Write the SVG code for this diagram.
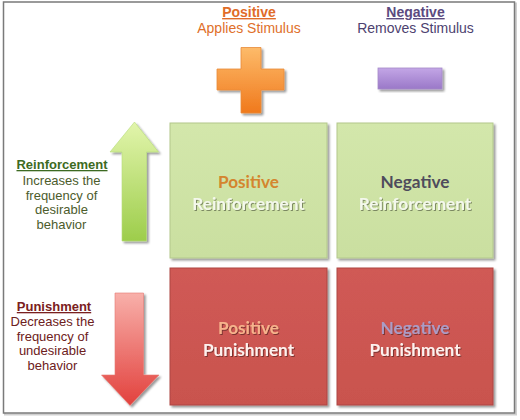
<svg xmlns="http://www.w3.org/2000/svg" width="520" height="420" viewBox="0 0 520 420">
<defs>
  <linearGradient id="gPlus" x1="0" y1="0" x2="0" y2="1">
    <stop offset="0" stop-color="#fdbb6a"/>
    <stop offset="1" stop-color="#f0791c"/>
  </linearGradient>
  <linearGradient id="gMinus" x1="0" y1="0" x2="0" y2="1">
    <stop offset="0" stop-color="#c3a6e6"/>
    <stop offset="1" stop-color="#9a78c8"/>
  </linearGradient>
  <linearGradient id="gUp" x1="0" y1="0" x2="0" y2="1">
    <stop offset="0" stop-color="#e2f5ac"/>
    <stop offset="1" stop-color="#9dcd4b"/>
  </linearGradient>
  <linearGradient id="gDown" x1="0" y1="0" x2="0" y2="1">
    <stop offset="0" stop-color="#f8b0aa"/>
    <stop offset="1" stop-color="#e2413d"/>
  </linearGradient>
  <linearGradient id="gGreen" x1="0" y1="0" x2="0" y2="1">
    <stop offset="0" stop-color="#d3e7ab"/>
    <stop offset="1" stop-color="#cadfa0"/>
  </linearGradient>
  <linearGradient id="gRed" x1="0" y1="0" x2="0" y2="1">
    <stop offset="0" stop-color="#d05a55"/>
    <stop offset="1" stop-color="#c9534e"/>
  </linearGradient>
  <filter id="shadow" x="-10%" y="-10%" width="125%" height="125%">
    <feDropShadow dx="2" dy="2" stdDeviation="1.2" flood-color="#000" flood-opacity="0.4"/>
  </filter>
  <filter id="tshadow" x="-10%" y="-20%" width="120%" height="150%">
    <feDropShadow dx="1" dy="1" stdDeviation="0.6" flood-color="#000" flood-opacity="0.4"/>
  </filter>
</defs>
<style>
  .hd { font-family: "Liberation Sans", Arial, sans-serif; font-size: 14px; text-anchor: middle; }
  .b { font-weight: bold; text-decoration: underline; }
  .side { font-family: "Liberation Sans", Arial, sans-serif; font-size: 13px; text-anchor: middle; }
  .box { font-family: Lato, "Open Sans", sans-serif; font-weight: bold; font-size: 17.2px; text-anchor: middle; }
  .greenbox { fill: url(#gGreen); stroke: #b3c88c; stroke-width: 1; }
  .redbox { fill: url(#gRed); stroke: #ad4742; stroke-width: 1; }
</style>
<rect width="520" height="420" fill="#ffffff"/>
<rect x="5" y="3.5" width="511" height="411" fill="none" stroke="#cfcfcf" stroke-width="2"/>
<rect x="3.5" y="2" width="511" height="411" fill="#ffffff" stroke="#7a7a7a" stroke-width="1.5"/>

<g id="header-positive">
  <text class="hd b" x="249" y="17" fill="#e06c28">Positive</text>
  <text class="hd" x="249" y="32.5" fill="#e0702a">Applies Stimulus</text>
</g>
<g id="header-negative">
  <text class="hd b" x="415.5" y="17" fill="#5b4a80">Negative</text>
  <text class="hd" x="415.5" y="32.5" fill="#4d4270">Removes Stimulus</text>
</g>

<g id="plus" filter="url(#shadow)">
  <path d="M241,47.5 H261 V69 H284 V90 H261 V113 H241 V90 H217 V69 H241 Z" fill="url(#gPlus)" stroke="#e88a3a" stroke-width="0.8"/>
</g>
<g id="minus" filter="url(#shadow)">
  <rect x="378" y="68" width="64" height="21" fill="url(#gMinus)" stroke="#a58bc9" stroke-width="0.8"/>
</g>

<g id="reinforcement-label">
  <text class="side b" x="62" y="169" fill="#3d6a22">Reinforcement</text>
  <text class="side" x="61.5" y="185" fill="#4c5c2c">Increases the</text>
  <text class="side" x="61.5" y="199.5" fill="#4c5c2c">frequency of</text>
  <text class="side" x="61.5" y="214" fill="#4c5c2c">desirable</text>
  <text class="side" x="61.5" y="228.5" fill="#4c5c2c">behavior</text>
</g>
<g id="punishment-label">
  <text class="side b" x="54" y="311" fill="#7a2020">Punishment</text>
  <text class="side" x="52.5" y="326" fill="#6d2020">Decreases the</text>
  <text class="side" x="52.5" y="340.5" fill="#6d2020">frequency of</text>
  <text class="side" x="52.5" y="355" fill="#6d2020">undesirable</text>
  <text class="side" x="52.5" y="369.5" fill="#6d2020">behavior</text>
</g>

<g id="arrow-up" filter="url(#shadow)">
  <path d="M134.5,122 L158.5,152 H146.5 V241 H122 V152 H110 Z" fill="url(#gUp)" stroke="#b6dc78" stroke-width="0.6"/>
</g>
<g id="arrow-down" filter="url(#shadow)">
  <path d="M115,293 H143.5 V375 H159 L130,405.5 L101.5,375 H115 Z" fill="url(#gDown)" stroke="#e57a74" stroke-width="0.6"/>
</g>

<g id="positive-reinforcement">
  <rect class="greenbox" x="170" y="123" width="157" height="135" filter="url(#shadow)"/>
  <text class="box" x="248.5" y="188" fill="#d4852e">Positive</text>
  <text class="box" x="248.5" y="210" fill="#f4f8ec" filter="url(#tshadow)">Reinforcement</text>
</g>
<g id="negative-reinforcement">
  <rect class="greenbox" x="337" y="123" width="156" height="135" filter="url(#shadow)"/>
  <text class="box" x="415" y="188" fill="#4e4b5c">Negative</text>
  <text class="box" x="415" y="210" fill="#f4f8ec" filter="url(#tshadow)">Reinforcement</text>
</g>
<g id="positive-punishment">
  <rect class="redbox" x="170" y="268" width="157" height="137" filter="url(#shadow)"/>
  <text class="box" x="248.5" y="334" fill="#f6b48c" filter="url(#tshadow)">Positive</text>
  <text class="box" x="248.5" y="356" fill="#fdf1ee" filter="url(#tshadow)">Punishment</text>
</g>
<g id="negative-punishment">
  <rect class="redbox" x="337" y="268" width="156" height="137" filter="url(#shadow)"/>
  <text class="box" x="415" y="334" fill="#ab9cc6" filter="url(#tshadow)">Negative</text>
  <text class="box" x="415" y="356" fill="#fdf1ee" filter="url(#tshadow)">Punishment</text>
</g>
<g id="connectors"/>
</svg>
